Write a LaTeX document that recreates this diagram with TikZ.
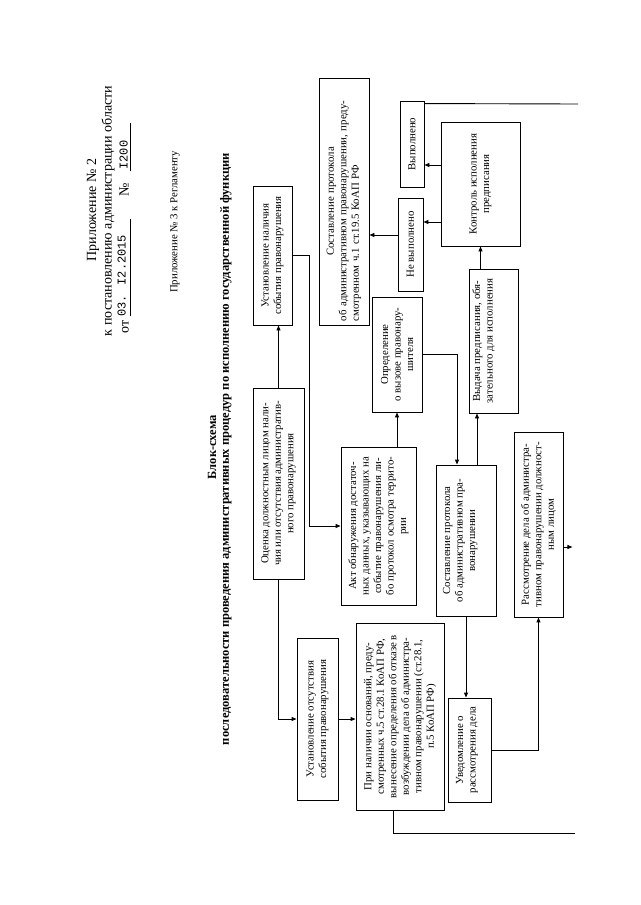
\documentclass[tikz,border=0pt]{standalone}
\usepackage{fontspec}
\setmainfont{Liberation Serif}
\newfontfamily\typedfont{Liberation Mono}
\usetikzlibrary{arrows.meta}

\begin{document}
\begin{tikzpicture}[
  x=1pt, y=-1pt,
  line width=0.9pt,
  box/.style={draw, rotate=90, align=center, inner sep=3pt, font=\fontsize{10.8}{12.5}\selectfont},
  hdr/.style={rotate=90, inner sep=0pt, font=\fontsize{14}{16}\selectfont},
  note/.style={rotate=90, inner sep=0pt, font=\fontsize{10.8}{12}\selectfont},
  ttl/.style={rotate=90, inner sep=0pt, font=\fontsize{12.5}{14}\selectfont\bfseries},
  arr/.style={-{Triangle[length=5pt,width=4pt]}}
]
\useasboundingbox (0,0) rectangle (640,905);

% ---------- Header ----------
\node[hdr] (app2) at (93,210) {Приложение № 2};
\node[hdr] (decree) at (108,211) {к постановлению администрации области};
\node[hdr] (dated) at (124,228)
  {от\hspace{4pt}\underline{\raisebox{3pt}{\typedfont\fontsize{12}{14}\selectfont 03. I2.2015}\hspace{16pt}}\hspace{22pt}№\hspace{12pt}\underline{\hspace{2pt}\raisebox{1pt}{\typedfont\fontsize{12}{14}\selectfont I200}\hspace{18pt}}};
\node[note] (app3) at (175,222) {Приложение № 3 к Регламенту};
\node[ttl] (blk) at (212,447) {Блок-схема};
\node[ttl] (title) at (226,449)
  {последовательности проведения административных процедур по исполнению государственной функции};

% ---------- Assessment and its two outcomes ----------
\node[box, minimum width=191, minimum height=51] (ocenka) at (278.5,483.5)
  {Оценка должностным лицом нали-\\чия или отсутствия административ-\\ного правонарушения};
\node[box, minimum width=139, minimum height=39] (estab) at (272.5,255.5)
  {Установление наличия\\события правонарушения};
\node[box, minimum width=162, minimum height=41] (absent) at (317.5,719)
  {Установление отсутствия\\события правонарушения};
\node[box, minimum width=187, minimum height=88] (nalichie) at (400,716.5)
  {При наличии оснований, преду-\\смотренных ч.5 ст.28.1 КоАП РФ,\\вынесение определения об отказе в\\возбуждении дела об администра-\\тивном правонарушении (ст.28.1,\\п.5 КоАП РФ)};

% ---------- Violation found ----------
\node[box, minimum width=158, minimum height=75] (akt) at (378.5,526)
  {Акт обнаружения достаточ-\\ных данных, указывающих на\\событие правонарушения ли-\\бо протокол осмотра террито-\\рии};
\node[box, minimum width=115, minimum height=50] (opred) at (397,354.5)
  {Определение\\о вызове правонару-\\шителя};
\node[box, minimum width=151, minimum height=60, text height=36pt, text depth=18pt] (protB) at (466,540.5)
  {Составление протокола\\об административном пра-\\вонарушении};
\node[box, minimum width=144, minimum height=49, text height=20.5pt, text depth=22.5pt] (vydacha) at (493.5,341)
  {Выдача предписания, обя-\\зательного для исполнения};
\node[box, minimum width=124, minimum height=79] (kontrol) at (480.5,184)
  {Контроль исполнения\\предписания};
\node[box, minimum width=86, minimum height=24] (vypol) at (412,144) {Выполнено};
\node[box, minimum width=93, minimum height=25] (nevypol) at (410.5,244.5) {Не выполнено};
\node[box, minimum width=247, minimum height=50, text width=239pt, align=left] (protA) at (344,201.5)
  {\makebox[\linewidth]{Составление протокола}\\об административном правонарушении, преду-\\смотренном ч.1 ст.19.5 КоАП РФ};
\node[box, minimum width=104, minimum height=43, text height=24.5pt, text depth=12.5pt] (uvedom) at (469.5,750)
  {Уведомление о\\рассмотрения дела};
\node[box, minimum width=185, minimum height=49] (rassm) at (538.5,524.5)
  {Рассмотрение дела об администра-\\тивном правонарушении должност-\\ным лицом};

% ---------- Off-page ends ----------
\coordinate (outA) at (578,104);
\coordinate (outB) at (575,833);

% ---------- Connectors ----------
\draw[arr] (ocenka.east) -- (ocenka.east |- estab.west);
\draw[arr] (estab.south) -- ++(17,0) |- (akt.north);
\draw[arr] (ocenka.west) |- (absent.north);
\draw[arr] (absent.south) -- (absent.south -| nalichie.north);
\draw ([xshift=-7pt]nalichie.west) |- (outB);
\draw[arr] (akt.east -| opred.west) -- (opred.west);
\draw[arr] (opred.south) -| ([xshift=-9pt]protB.east);
\draw[arr] ([xshift=11pt]protB.east) -- ([xshift=11pt]protB.east |- vydacha.west);
\draw[arr] (vydacha.east -| kontrol.west) -- (kontrol.west);
\draw[arr] ([yshift=19pt]kontrol.north) -- ([yshift=19pt]kontrol.north -| vypol.south);
\draw[arr] ([yshift=-38pt]kontrol.north) -- ([yshift=-38pt]kontrol.north -| nevypol.south);
\draw[arr] ([yshift=9.5pt]nevypol.north) -- ([yshift=9.5pt]nevypol.north -| protA.south);
\draw ([yshift=-3pt]vypol.south east) -- (outA);
\draw[arr] (protB.west) -- (protB.west |- uvedom.east);
\draw[arr] (uvedom.south) -| (rassm.west);
\draw[arr] ([yshift=-22.5pt]rassm.south) -- ++(9,0);
\end{tikzpicture}
\end{document}
